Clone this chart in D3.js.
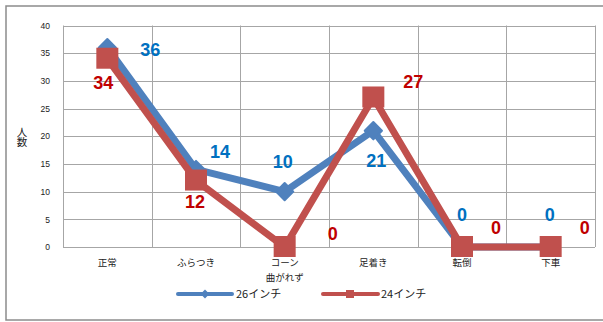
<!DOCTYPE html>
<html><head><meta charset="utf-8">
<script src="https://cdn.jsdelivr.net/npm/d3@7/dist/d3.min.js"></script>
<style>body{margin:0;background:#fff;} svg{display:block;}</style>
</head><body>
<script>
const categories = [["正常"], ["ふらつき"], ["コーン", "曲がれず"], ["足着き"], ["転倒"], ["下車"]];
const seriesNames = ["26インチ", "24インチ"];
const values26 = [36, 14, 10, 21, 0, 0];
const values24 = [34, 12, 0, 27, 0, 0];
const yTicks = [0, 5, 10, 15, 20, 25, 30, 35, 40];
const yTitle = "人数";
// label offsets (dx, dy) relative to each point, per series
const labelOffsets26 = [[43, 2], [24, -17], [-2, -30], [3, 30], [0, -32], [-1, -32]];
const labelOffsets24 = [[-4, 24], [-1, 21], [48, -13], [40, -15], [34, -19], [34, -19]];

const W = 603, H = 322;
const svg = d3.select("body").append("svg").attr("width", W).attr("height", H);
svg.append("rect").attr("x", 6).attr("y", 6).attr("width", W).attr("height", 314)
  .attr("fill", "#fff").attr("stroke", "#8c8c8c").attr("stroke-width", 1.5);

const x0 = 63, x1 = 595, y0 = 247, y1 = 25.5;
const x = d3.scaleBand().domain(d3.range(categories.length)).range([x0, x1]).padding(0);
const y = d3.scaleLinear().domain([0, 40]).range([y0, y1]);
const cx = i => x(i) + x.bandwidth() / 2;

const grid = svg.append("g");
grid.selectAll("line.h").data(yTicks).join("line")
  .attr("x1", x0).attr("x2", x1).attr("y1", d => Math.round(y(d)) + 0.5).attr("y2", d => Math.round(y(d)) + 0.5)
  .attr("stroke", "#a6a6a6").attr("stroke-width", 1);
grid.selectAll("line.v").data(d3.range(categories.length + 1)).join("line")
  .attr("x1", i => Math.round(x0 + i * x.bandwidth()) + 0.5).attr("x2", i => Math.round(x0 + i * x.bandwidth()) + 0.5)
  .attr("y1", y1).attr("y2", y0)
  .attr("stroke", "#a6a6a6").attr("stroke-width", 1);

const yAxis = d3.axisLeft(y).tickValues(yTicks).tickSize(0).tickPadding(0);
const ga = svg.append("g").attr("transform", `translate(${50},0)`).call(yAxis);
ga.select(".domain").remove();
ga.selectAll("text").attr("font-family", "'Liberation Sans', Arial, sans-serif").attr("font-size", 8.5).attr("fill", "#222");

// y title (vertical writing)
svg.append("text").attr("x", 22).attr("y", 137).attr("text-anchor", "middle")
  .style("writing-mode", "vertical-rl").style("text-orientation", "upright")
  .attr("font-family", "'Noto Sans CJK JP', sans-serif").attr("font-size", 10.5).attr("fill", "#222").text(yTitle);

// x labels
const xl = svg.append("g").selectAll("text").data(categories).join("text")
  .attr("text-anchor", "middle").attr("font-family", "'Noto Sans CJK JP', sans-serif").attr("font-size", 9.5).attr("fill", "#222");
xl.each(function(d, i) {
  d3.select(this).selectAll("tspan").data(d).join("tspan")
    .attr("x", cx(i)).attr("y", (t, j) => 266 + j * 14.5).text(t => t);
});

const blue = "#4F81BD", red = "#C0504D";
const line = d3.line().x((d, i) => cx(i)).y(d => y(d));

svg.append("path").datum(values26).attr("d", line).attr("fill", "none").attr("stroke", blue)
  .attr("stroke-width", 7).attr("stroke-linejoin", "round");
svg.selectAll("path.d26").data(values26).join("path")
  .attr("d", d3.symbol().type(d3.symbolDiamond2 || d3.symbolDiamond).size(190))
  .attr("transform", (d, i) => `translate(${cx(i)},${y(d)})`)
  .attr("fill", blue).attr("stroke", blue).attr("stroke-width", 2).attr("stroke-linejoin", "round");

svg.append("path").datum(values24).attr("d", line).attr("fill", "none").attr("stroke", red)
  .attr("stroke-width", 7).attr("stroke-linejoin", "miter");
svg.selectAll("rect.s24").data(values24).join("rect")
  .attr("x", (d, i) => cx(i) - 11).attr("y", d => y(d) - 11).attr("width", 22).attr("height", 21)
  .attr("fill", red);

const lf = "'Liberation Sans', Arial, sans-serif";
svg.selectAll("text.l26").data(values26).join("text")
  .attr("x", (d, i) => cx(i) + labelOffsets26[i][0]).attr("y", (d, i) => y(d) + labelOffsets26[i][1])
  .attr("text-anchor", "middle").attr("dominant-baseline", "central")
  .attr("font-family", lf).attr("font-weight", "bold").attr("font-size", 18).attr("fill", "#0070C0").text(d => d);
svg.selectAll("text.l24").data(values24).join("text")
  .attr("x", (d, i) => cx(i) + labelOffsets24[i][0]).attr("y", (d, i) => y(d) + labelOffsets24[i][1])
  .attr("text-anchor", "middle").attr("dominant-baseline", "central")
  .attr("font-family", lf).attr("font-weight", "bold").attr("font-size", 18).attr("fill", "#C00000").text(d => d);

const lg = svg.append("g");
lg.append("line").attr("x1", 178).attr("x2", 232).attr("y1", 294).attr("y2", 294).attr("stroke", blue).attr("stroke-width", 4).attr("stroke-linecap", "round");
lg.append("path").attr("d", d3.symbol().type(d3.symbolDiamond2 || d3.symbolDiamond).size(50)).attr("transform", "translate(205,294)").attr("fill", blue);
lg.append("text").attr("x", 236).attr("y", 298).attr("font-family", "'Noto Sans CJK JP', sans-serif").attr("font-size", 11).attr("fill", "#222").text(seriesNames[0]);
lg.append("line").attr("x1", 323).attr("x2", 378).attr("y1", 294).attr("y2", 294).attr("stroke", red).attr("stroke-width", 4).attr("stroke-linecap", "round");
lg.append("rect").attr("x", 346).attr("y", 290).attr("width", 8).attr("height", 8).attr("fill", red);
lg.append("text").attr("x", 381).attr("y", 298).attr("font-family", "'Noto Sans CJK JP', sans-serif").attr("font-size", 11).attr("fill", "#222").text(seriesNames[1]);
</script>
</body></html>
